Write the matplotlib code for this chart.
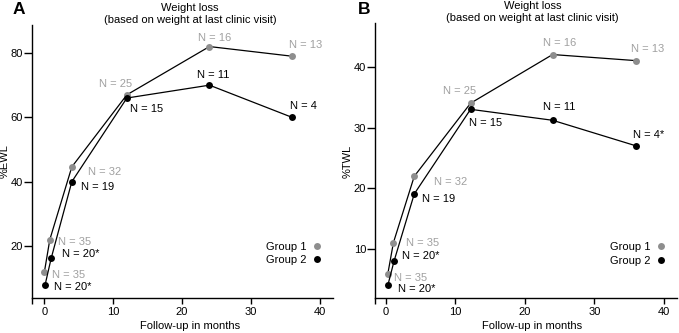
import matplotlib
matplotlib.use('Agg')
import matplotlib.pyplot as plt
from matplotlib.lines import Line2D

plt.rcParams['font.family'] = ['Liberation Sans', 'DejaVu Sans']
FS = 8.0

# ---------------- data ----------------
months_a_g1 = [0, 0.8, 4, 12, 24, 36]
ewl_g1 = [11.8, 22, 44.6, 67, 82, 79]
months_a_g2 = [0.1, 1.0, 4, 12, 24, 36]
ewl_g2 = [7.8, 16.2, 40, 66, 70, 60]
n_a_g1 = ['N = 35', 'N = 35', 'N = 32', 'N = 25', 'N = 16', 'N = 13']
n_a_g2 = ['N = 20*', 'N = 20*', 'N = 19', 'N = 15', 'N = 11', 'N = 4']

months_b_g1 = [0.3, 1.1, 4.1, 12.2, 24, 36]
twl_g1 = [6.0, 11.1, 22, 34, 42, 41]
months_b_g2 = [0.3, 1.2, 4.1, 12.2, 24, 36]
twl_g2 = [4.1, 8.1, 19.1, 33, 31.2, 27]
n_b_g1 = ['N = 35', 'N = 35', 'N = 32', 'N = 25', 'N = 16', 'N = 13']
n_b_g2 = ['N = 20*', 'N = 20*', 'N = 19', 'N = 15', 'N = 11', 'N = 4*']

x_ticks = [0, 10, 20, 30, 40]
y_ticks_a = [20, 40, 60, 80]
y_ticks_b = [10, 20, 30, 40]
group_labels = ['Group 1', 'Group 2']

# ---------------- layout (label offsets in pixels) ----------------
off_a_g1 = [(8, -3, 'left'), (8, -2, 'left'), (16, -5, 'left'), (-11, 11, 'center'), (5, 9, 'center'), (14, 11, 'center')]
off_a_g2 = [(9, -2, 'left'), (11, 4, 'left'), (9, -5, 'left'), (19.5, -11, 'center'), (4, 10, 'center'), (11, 11, 'center')]
off_b_g1 = [(6, -4, 'left'), (13, 0, 'left'), (20, -6, 'left'), (-11, 12, 'center'), (7, 12, 'center'), (12, 12, 'center')]
off_b_g2 = [(10, -4, 'left'), (8, 5, 'left'), (8, -5, 'left'), (15, -13.6, 'center'), (7, 13, 'center'), (13, 11, 'center')]

GRAY_M = '#8e8e8e'
GRAY_T = '#a0a0a0'

W, H = 679, 333
fig = plt.figure(figsize=(W / 100, H / 100), dpi=100)


def px_rect(l, r, t, b):
    return [l / W, 1 - b / H, (r - l) / W, (b - t) / H]


def panel(rect, xlim, ylim, yticks, xs1, ys1, xs2, ys2, lab1, lab2, off1, off2,
          ylabel, letter, letter_xy, titlex, legend_xy):
    ax = fig.add_axes(rect)
    ax.set_xlim(*xlim)
    ax.set_ylim(*ylim)
    for s in ['top', 'right']:
        ax.spines[s].set_visible(False)
    for s in ['left', 'bottom']:
        ax.spines[s].set_linewidth(1.0)
    ax.set_xticks(x_ticks)
    ax.set_xticks([xlim[0]], minor=True)
    ax.set_yticks(yticks)
    ax.tick_params(which='both', direction='out', length=4, width=1.0, labelsize=FS, pad=2.5)
    ax.tick_params(axis='y', length=5.5, pad=1)

    ax.plot(xs1, ys1, color='black', lw=0.9, marker='o', ms=5, mfc=GRAY_M, mec=GRAY_M, mew=0, zorder=3)
    ax.plot(xs2, ys2, color='black', lw=0.9, marker='o', ms=5, mfc='black', mec='black', mew=0, zorder=4)

    for x, y, t, (dx, dy, ha) in zip(xs1, ys1, lab1, off1):
        ax.annotate(t, (x, y), xytext=(dx, dy), textcoords='offset pixels',
                    ha=ha, va='center', fontsize=FS, color=GRAY_T)
    for x, y, t, (dx, dy, ha) in zip(xs2, ys2, lab2, off2):
        ax.annotate(t, (x, y), xytext=(dx, dy), textcoords='offset pixels',
                    ha=ha, va='center', fontsize=FS, color='black')

    ax.set_xlabel('Follow-up in months', fontsize=FS, va='center')
    ax.xaxis.set_label_coords(titlex, -28 / 274.0)
    ax.set_ylabel(ylabel, fontsize=FS, va='center')
    ax.yaxis.set_label_coords(-27 / 301.0, 0.5)
    ax.set_title('Weight loss\n(based on weight at last clinic visit)', fontsize=FS,
                 x=titlex, y=1.0, pad=1.5, linespacing=1.3)

    handles = [Line2D([], [], ls='none', marker='o', ms=5, mfc=GRAY_M, mec=GRAY_M, mew=0),
               Line2D([], [], ls='none', marker='o', ms=5, mfc='black', mec='black', mew=0)]
    ax.legend(handles, group_labels, loc='center right', bbox_to_anchor=legend_xy,
              bbox_transform=fig.transFigure, frameon=False, markerfirst=False,
              fontsize=FS, handlelength=0.8, handletextpad=0.5, labelspacing=0.3,
              borderpad=0, borderaxespad=0)

    fig.text(letter_xy[0] / W, 1 - letter_xy[1] / H, letter, fontsize=12.5, fontweight='bold',
             ha='center', va='center')
    return ax


panel(px_rect(32, 333, 25, 298), (-1.79, 41.96), (3.84, 88.7), y_ticks_a,
      months_a_g1, ewl_g1, months_a_g2, ewl_g2, n_a_g1, n_a_g2, off_a_g1, off_a_g2,
      '%EWL', 'A', (19, 10), 0.525, (321 / W, 1 - 253.7 / H))

panel(px_rect(375, 677, 23.5, 298.3), (-1.55, 41.9), (1.95, 47.1), y_ticks_b,
      months_b_g1, twl_g1, months_b_g2, twl_g2, n_b_g1, n_b_g2, off_b_g1, off_b_g2,
      '%TWL', 'B', (364, 9), 0.521, (665 / W, 1 - 254 / H))

fig.savefig('out.png', dpi=100)
